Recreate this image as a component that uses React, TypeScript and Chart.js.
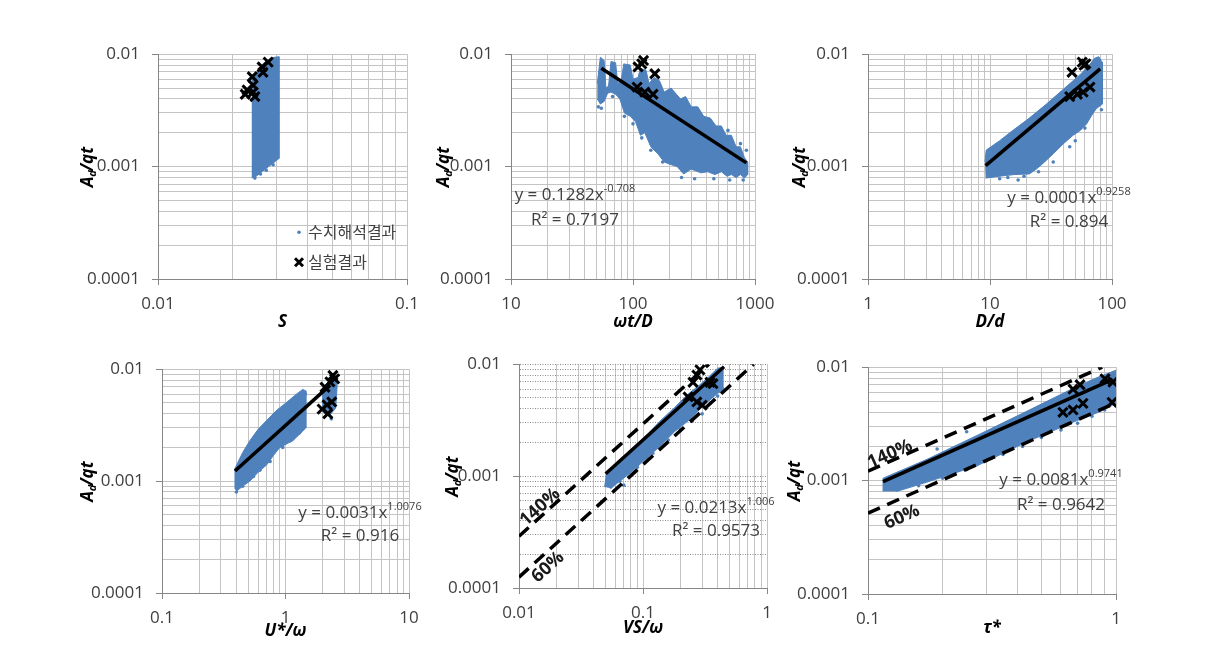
import React, { useEffect, useRef } from 'react';
import { Chart, registerables } from 'chart.js';

Chart.register(...registerables);

type Pt = [number, number];

// ---------------- shared ----------------
const yTickValues = [0.0001, 0.001, 0.01];
const yTickLabels = ['0.0001', '0.001', '0.01'];
const legendLabels = ['수치해석결과', '실험결과'];

// ---------------- panel 1 : S ----------------
const p1XTicks = [0.01, 0.1];
const p1XLabels = ['0.01', '0.1'];
const p1Cloud: Pt[] = [
  [0.0238, 0.0058], [0.025, 0.007], [0.0265, 0.0083], [0.0285, 0.0093], [0.0306, 0.0095],
  [0.0306, 0.00118], [0.0297, 0.00112], [0.0288, 0.00106], [0.0278, 0.001], [0.0268, 0.00094],
  [0.0258, 0.00088], [0.0248, 0.00082], [0.0238, 0.00079],
];
const p1Fringe: Pt[] = [[0.0245, 0.00079], [0.0258, 0.00086], [0.0272, 0.00093], [0.029, 0.00104]];
const p1Exp: Pt[] = [
  [0.0224, 0.0044], [0.0241, 0.0046], [0.0239, 0.0063], [0.0241, 0.0053], [0.0262, 0.0077],
  [0.0277, 0.0085], [0.0264, 0.0069], [0.0228, 0.0048], [0.0245, 0.0042],
];

// ---------------- panel 2 : wt/D ----------------
const p2XTicks = [10, 100, 1000];
const p2XLabels = ['10', '100', '1000'];
const p2Cloud: Pt[] = [
  [51, 0.0055], [54, 0.0094], [58, 0.0088], [60, 0.005], [63, 0.0052], [66, 0.0086], [72, 0.0084],
  [75, 0.0055], [80, 0.0058], [84, 0.0082], [95, 0.008], [100, 0.006], [110, 0.0062], [115, 0.0075],
  [128, 0.0072], [135, 0.0055], [150, 0.0062], [165, 0.0058], [180, 0.0046], [205, 0.005],
  [245, 0.004], [270, 0.0042], [300, 0.0034], [340, 0.0034], [380, 0.0028], [430, 0.0027], [480, 0.0023],
  [530, 0.0023], [580, 0.0019], [640, 0.0019], [700, 0.0015], [760, 0.0015], [820, 0.0012], [870, 0.0011],
  [870, 0.00085], [820, 0.00079], [760, 0.00085], [700, 0.0008], [640, 0.00085], [590, 0.00082],
  [530, 0.0009], [470, 0.00085], [410, 0.0009], [360, 0.00088], [300, 0.00095], [260, 0.00086],
  [230, 0.001], [200, 0.00105], [180, 0.0011], [160, 0.0013], [140, 0.0015], [125, 0.002], [115, 0.0019],
  [105, 0.0025], [95, 0.0028], [85, 0.003], [78, 0.004], [72, 0.0044], [66, 0.0046], [62, 0.0045],
  [58, 0.0038], [54, 0.0036], [51, 0.004],
];
const p2Fringe: Pt[] = [
  [52, 0.0034], [55, 0.0033], [68, 0.0042], [85, 0.0028], [100, 0.0024], [118, 0.0018],
  [140, 0.0014], [175, 0.0011], [250, 0.0008], [320, 0.00078], [460, 0.00078], [620, 0.00076],
  [800, 0.00076], [850, 0.0014], [760, 0.0016], [600, 0.0021],
];
const p2Exp: Pt[] = [
  [118, 0.0082], [110, 0.0077], [151, 0.0067], [108, 0.0051], [125, 0.0046], [146, 0.0044], [122, 0.0088],
];
const p2Trend: Pt[] = [[55, 0.0075], [850, 0.00108]];

// ---------------- panel 3 : D/d ----------------
const p3XTicks = [1, 10, 100];
const p3XLabels = ['1', '10', '100'];
const p3Cloud: Pt[] = [
  [9.1, 0.0011], [9.3, 0.0014], [12, 0.0017], [15.4, 0.0021], [21, 0.0027], [29, 0.0036], [41, 0.005],
  [55, 0.0066], [65, 0.008], [72, 0.0092], [78, 0.0095], [83, 0.0085], [84, 0.006], [83, 0.0036],
  [75, 0.0033], [70, 0.003], [62, 0.0024], [55, 0.0021], [48, 0.0019], [40, 0.0016], [33, 0.0013],
  [28, 0.0011], [24, 0.00095], [21, 0.00086], [16, 0.00085], [13, 0.00083], [10, 0.0008], [9.2, 0.00079],
];
const p3Fringe: Pt[] = [
  [12, 0.00078], [14, 0.0008], [17, 0.00076], [19, 0.00082], [25, 0.0009], [33, 0.0011], [45, 0.0015],
  [50, 0.0017], [60, 0.0022], [68, 0.003], [78, 0.004], [82, 0.0032],
];
const p3Exp: Pt[] = [
  [47, 0.0069], [57, 0.0085], [61, 0.0082], [59, 0.008], [45, 0.0042], [52, 0.0044], [66, 0.0051], [58, 0.0046],
];
const p3Trend: Pt[] = [[9.2, 0.00102], [80, 0.0074]];

// ---------------- panel 4 : U*/w ----------------
const p4XTicks = [0.1, 1, 10];
const p4XLabels = ['0.1', '1', '10'];
const p4CloudMain: Pt[] = [
  [0.39, 0.00085], [0.39, 0.0013], [0.45, 0.0018], [0.515, 0.0023], [0.6, 0.0029], [0.706, 0.0035],
  [0.85, 0.0043], [1.03, 0.0051], [1.23, 0.006], [1.38, 0.0066], [1.46, 0.0064], [1.46, 0.003],
  [1.38, 0.0028], [1.15, 0.0023], [0.9, 0.002], [0.8, 0.0017], [0.706, 0.0014], [0.6, 0.0012],
  [0.515, 0.001], [0.45, 0.0009], [0.4, 0.00081],
];
const p4CloudSmall: Pt[] = [
  [2.0, 0.0042], [2.0, 0.0062], [2.25, 0.008], [2.55, 0.0089], [2.62, 0.0072], [2.55, 0.0045], [2.25, 0.0038],
];
const p4Fringe: Pt[] = [
  [0.4, 0.0008], [0.45, 0.0009], [0.55, 0.0011], [0.62, 0.00125], [0.75, 0.0015], [0.95, 0.002],
  [1.1, 0.0023], [1.3, 0.0027], [1.4, 0.003], [1.45, 0.006], [2.35, 0.0036],
];
const p4Exp: Pt[] = [
  [2.42, 0.0088], [2.29, 0.0077], [2.09, 0.0069], [2.5, 0.0082], [1.98, 0.0044], [2.37, 0.0051],
  [2.17, 0.0048], [2.2, 0.004],
];
const p4Trend: Pt[] = [[0.39, 0.00123], [2.3, 0.0072]];

// ---------------- panel 5 : VS/w ----------------
const p5XTicks = [0.01, 0.1, 1];
const p5XLabels = ['0.01', '0.1', '1'];
const p5Cloud: Pt[] = [
  [0.049, 0.0008], [0.051, 0.00107], [0.065, 0.0014], [0.083, 0.0018], [0.11, 0.0024], [0.137, 0.0031],
  [0.18, 0.0041], [0.226, 0.0053], [0.28, 0.0064], [0.33, 0.0075], [0.4, 0.0092], [0.44, 0.0094],
  [0.44, 0.0058], [0.4, 0.0055], [0.34, 0.0047], [0.29, 0.004], [0.23, 0.0031], [0.18, 0.0025],
  [0.137, 0.00185], [0.1, 0.00135], [0.08, 0.00108], [0.065, 0.0009], [0.055, 0.00078],
];
const p5Fringe: Pt[] = [
  [0.055, 0.0008], [0.065, 0.0009], [0.07, 0.00083], [0.09, 0.0012], [0.12, 0.0016], [0.16, 0.0021],
  [0.2, 0.0026], [0.25, 0.0031], [0.3, 0.0036], [0.35, 0.0045], [0.4, 0.0052], [0.44, 0.006],
];
const p5Exp: Pt[] = [
  [0.288, 0.0089], [0.272, 0.008], [0.253, 0.0069], [0.347, 0.0069], [0.367, 0.0067], [0.231, 0.0051],
  [0.272, 0.0046], [0.3, 0.0043],
];
const p5Trend: Pt[] = [[0.05, 0.00105], [0.45, 0.0095]];
const p5Upper: Pt[] = [[0.01, 0.00029], [0.34, 0.01]];
const p5Lower: Pt[] = [[0.01, 0.000125], [0.78, 0.01]];

// ---------------- panel 6 : tau* ----------------
const p6XTicks = [0.1, 1];
const p6XLabels = ['0.1', '1'];
const p6Cloud: Pt[] = [
  [0.115, 0.0008], [0.115, 0.00105], [0.173, 0.00154], [0.275, 0.0025], [0.438, 0.0041], [0.7, 0.0068],
  [0.85, 0.0082], [1.0, 0.0094], [1.0, 0.0048], [0.85, 0.004], [0.7, 0.0034], [0.438, 0.0022],
  [0.275, 0.00135], [0.173, 0.00097], [0.13, 0.0008],
];
const p6Fringe: Pt[] = [
  [0.16, 0.0009], [0.2, 0.00105], [0.25, 0.00125], [0.3, 0.0015], [0.35, 0.0017], [0.42, 0.002],
  [0.5, 0.0024], [0.6, 0.0028], [0.7, 0.0032], [0.8, 0.0037], [0.9, 0.0042], [0.25, 0.0027], [0.19, 0.0019],
];
const p6Exp: Pt[] = [
  [0.671, 0.0064], [0.716, 0.007], [0.903, 0.0079], [0.972, 0.0074], [0.611, 0.004], [0.671, 0.0042],
  [0.736, 0.0048], [0.964, 0.0049],
];
const p6Trend: Pt[] = [[0.115, 0.00098], [0.97, 0.0078]];
const p6Upper: Pt[] = [[0.1, 0.00121], [0.88, 0.01]];
const p6Lower: Pt[] = [[0.1, 0.000517], [1.0, 0.00486]];

// ---------------- styles ----------------
const BLUE = '#4F81BD';
const GRID = '#c4c4c4';
const AXIS = '#868686';
const TEXT = '#404040';
const FONT = '"Open Sans", "Liberation Sans", sans-serif';
const KFONT = '"Noto Sans CJK KR", sans-serif';
const PAD_L = 90, PAD_T = 20, PAD_R = 32, PAD_B = 60;

interface Eq { base: string; sup: string; r2: string; cx: number; y1: number; y2: number }
interface Pct { text: string; x: number; y: number; angle: number }
interface PanelCfg {
  rect: [number, number, number, number];
  xMin: number; xMax: number; xTicks: number[]; xLabels: string[];
  xTitle: string; xTitleDy: number; yTitleDx: number;
  clouds: Pt[][]; fringe: Pt[]; exp: Pt[]; trend?: Pt[]; dashed?: Pt[][];
  eq?: Eq; pct?: Pct[]; legend?: boolean; dottedY?: boolean;
}

const panels: PanelCfg[] = [
  {
    rect: [158, 52, 407, 279], xMin: 0.01, xMax: 0.1, xTicks: p1XTicks, xLabels: p1XLabels,
    xTitle: 'S', xTitleDy: 43, yTitleDx: 70,
    clouds: [p1Cloud], fringe: p1Fringe, exp: p1Exp, legend: true,
  },
  {
    rect: [511, 52, 755, 279], xMin: 10, xMax: 1000, xTicks: p2XTicks, xLabels: p2XLabels,
    xTitle: 'ωt/D', xTitleDy: 43, yTitleDx: 67,
    clouds: [p2Cloud], fringe: p2Fringe, exp: p2Exp, trend: p2Trend,
    eq: { base: 'y = 0.1282x', sup: '-0.708', r2: 'R² = 0.7197', cx: 64, y1: 146, y2: 171 },
  },
  {
    rect: [868, 52, 1112, 279], xMin: 1, xMax: 100, xTicks: p3XTicks, xLabels: p3XLabels,
    xTitle: 'D/d', xTitleDy: 43, yTitleDx: 68,
    clouds: [p3Cloud], fringe: p3Fringe, exp: p3Exp, trend: p3Trend,
    eq: { base: 'y = 0.0001x', sup: '0.9258', r2: 'R² = 0.894', cx: 201, y1: 149, y2: 173 },
  },
  {
    rect: [162, 367, 409, 593], xMin: 0.1, xMax: 10, xTicks: p4XTicks, xLabels: p4XLabels,
    xTitle: 'U*/ω', xTitleDy: 38, yTitleDx: 74,
    clouds: [p4CloudMain, p4CloudSmall], fringe: p4Fringe, exp: p4Exp, trend: p4Trend,
    eq: { base: 'y = 0.0031x', sup: '1.0076', r2: 'R² = 0.916', cx: 198, y1: 149, y2: 172 },
  },
  {
    rect: [519, 362, 767, 588], xMin: 0.01, xMax: 1, xTicks: p5XTicks, xLabels: p5XLabels,
    xTitle: 'VS/ω', xTitleDy: 40, yTitleDx: 66, dottedY: true,
    clouds: [p5Cloud], fringe: p5Fringe, exp: p5Exp, trend: p5Trend, dashed: [p5Upper, p5Lower],
    eq: { base: 'y = 0.0213x', sup: '1.006', r2: 'R² = 0.9573', cx: 197, y1: 149, y2: 172 },
    pct: [
      { text: '140%', x: 21, y: 143, angle: 42 },
      { text: '60%', x: 29, y: 203, angle: 42 },
    ],
  },
  {
    rect: [868, 365, 1116, 594], xMin: 0.1, xMax: 1, xTicks: p6XTicks, xLabels: p6XLabels,
    xTitle: 'τ*', xTitleDy: 34, yTitleDx: 73,
    clouds: [p6Cloud], fringe: p6Fringe, exp: p6Exp, trend: p6Trend, dashed: [p6Upper, p6Lower],
    eq: { base: 'y = 0.0081x', sup: '0.9741', r2: 'R² = 0.9642', cx: 193, y1: 118, y2: 143 },
    pct: [
      { text: '140%', x: 22, y: 87, angle: 24 },
      { text: '60%', x: 34, y: 150, angle: 24 },
    ],
  },
];

// ---------------- helpers ----------------
const isMajor = (v: number) => Math.abs(Math.log10(v) - Math.round(Math.log10(v))) < 1e-6;

function gridValues(min: number, max: number): number[] {
  const out: number[] = [];
  const e0 = Math.round(Math.log10(min));
  const e1 = Math.round(Math.log10(max));
  for (let e = e0; e < e1; e++) {
    for (let m = 1; m < 10; m++) out.push(m * Math.pow(10, e));
  }
  out.push(max);
  return out;
}

function labelFor(v: number, vals: number[], labels: string[]) {
  const i = vals.findIndex((t) => Math.abs(t - v) / t < 1e-6);
  return i >= 0 ? labels[i] : '';
}

const pts = (a: Pt[]) => a.map(([x, y]) => ({ x, y }));

function axis(isX: boolean, min: number, max: number, vals: number[], labels: string[], dotted: boolean) {
  return {
    type: 'logarithmic',
    position: isX ? 'bottom' : 'left',
    min,
    max,
    afterBuildTicks: (s: any) => {
      s.ticks = gridValues(min, max).map((v) => ({ value: v }));
    },
    afterFit: (s: any) => {
      if (isX) s.height = PAD_B;
      else s.width = PAD_L;
    },
    ticks: {
      autoSkip: false,
      maxRotation: 0,
      minRotation: 0,
      padding: isX ? 9 : 12,
      color: TEXT,
      font: { family: FONT, size: 17 },
      callback: (v: any) => labelFor(Number(v), vals, labels),
    },
    grid: {
      color: dotted ? '#8a8a8a' : GRID,
      lineWidth: 1,
      tickLength: 6,
      tickColor: (c: any) => (c.tick && isMajor(c.tick.value) ? AXIS : 'rgba(0,0,0,0)'),
    },
    border: {
      display: true,
      color: AXIS,
      width: 1,
      dash: (c: any) => (dotted && c.tick ? [1, 1.5] : []),
    },
  };
}

function drawYTitle(ctx: CanvasRenderingContext2D, x: number, y: number) {
  const big = `italic bold 17px ${FONT}`;
  const small = `italic bold 11px ${FONT}`;
  ctx.save();
  ctx.translate(x, y);
  ctx.rotate(-Math.PI / 2);
  ctx.fillStyle = '#000';
  ctx.textBaseline = 'middle';
  ctx.textAlign = 'left';
  ctx.font = big;
  const wA = ctx.measureText('A').width;
  const wq = ctx.measureText('/qt').width;
  ctx.font = small;
  const wd = ctx.measureText('d').width;
  let x0 = -(wA + wd + wq) / 2;
  ctx.font = big;
  ctx.fillText('A', x0, 0);
  x0 += wA;
  ctx.font = small;
  ctx.fillText('d', x0, 5);
  x0 += wd - 1;
  ctx.font = big;
  ctx.fillText('/qt', x0, 0);
  ctx.restore();
}

function drawEq(ctx: CanvasRenderingContext2D, cx: number, y: number, base: string, sup: string) {
  const bf = `17px ${FONT}`;
  const sf = `11px ${FONT}`;
  ctx.font = bf;
  const wb = ctx.measureText(base).width;
  ctx.font = sf;
  const ws = ctx.measureText(sup).width;
  const x = cx - (wb + ws) / 2;
  ctx.textAlign = 'left';
  ctx.textBaseline = 'alphabetic';
  ctx.fillStyle = TEXT;
  ctx.font = bf;
  ctx.fillText(base, x, y);
  ctx.font = sf;
  ctx.fillText(sup, x + wb, y - 8);
}

function makeTextPlugin(cfg: PanelCfg) {
  return {
    id: 'panelTexts',
    afterDraw(chart: any) {
      const ctx: CanvasRenderingContext2D = chart.ctx;
      const a = chart.chartArea;
      ctx.save();
      // x title
      ctx.font = `italic bold 17px ${FONT}`;
      ctx.fillStyle = '#000';
      ctx.textAlign = 'center';
      ctx.textBaseline = 'middle';
      ctx.fillText(cfg.xTitle, (a.left + a.right) / 2, a.bottom + cfg.xTitleDy);
      // y title
      drawYTitle(ctx, a.left - cfg.yTitleDx, (a.top + a.bottom) / 2);
      // equation
      if (cfg.eq) {
        const e = cfg.eq;
        drawEq(ctx, a.left + e.cx, a.top + e.y1, e.base, e.sup);
        ctx.font = `17px ${FONT}`;
        ctx.textAlign = 'center';
        ctx.fillStyle = TEXT;
        ctx.fillText(e.r2, a.left + e.cx, a.top + e.y2);
      }
      // percentage labels
      if (cfg.pct) {
        for (const p of cfg.pct) {
          ctx.save();
          ctx.translate(a.left + p.x, a.top + p.y);
          ctx.rotate((-p.angle * Math.PI) / 180);
          ctx.font = `bold 18px ${FONT}`;
          ctx.fillStyle = '#1a1a1a';
          ctx.textAlign = 'center';
          ctx.textBaseline = 'middle';
          ctx.fillText(p.text, 0, 0);
          ctx.restore();
        }
      }
      // legend
      if (cfg.legend) {
        const lx = a.left + 141;
        const y1 = a.top + 178;
        const y2 = a.top + 208;
        ctx.fillStyle = BLUE;
        ctx.beginPath();
        ctx.arc(lx, y1, 1.8, 0, Math.PI * 2);
        ctx.fill();
        ctx.strokeStyle = '#000';
        ctx.lineWidth = 3;
        ctx.beginPath();
        ctx.moveTo(lx - 4, y2 - 4);
        ctx.lineTo(lx + 4, y2 + 4);
        ctx.moveTo(lx + 4, y2 - 4);
        ctx.lineTo(lx - 4, y2 + 4);
        ctx.stroke();
        ctx.font = `16px ${KFONT}`;
        ctx.fillStyle = TEXT;
        ctx.textAlign = 'left';
        ctx.textBaseline = 'middle';
        ctx.fillText(legendLabels[0], lx + 9, y1);
        ctx.fillText(legendLabels[1], lx + 9, y2);
      }
      ctx.restore();
    },
  };
}

function buildConfig(cfg: PanelCfg): any {
  const datasets: any[] = [];
  datasets.push({
    label: legendLabels[1],
    data: pts(cfg.exp),
    showLine: false,
    pointStyle: 'crossRot',
    pointRadius: 6.5,
    pointBorderWidth: 3,
    borderWidth: 3,
    borderColor: '#000',
    pointBorderColor: '#000',
    backgroundColor: '#000',
    order: 0,
  });
  if (cfg.trend) {
    datasets.push({
      label: 'trend',
      data: pts(cfg.trend),
      borderColor: '#000',
      borderWidth: 3.5,
      pointRadius: 0,
      fill: false,
      order: 1,
    });
  }
  (cfg.dashed || []).forEach((d, i) => {
    datasets.push({
      label: 'band' + i,
      data: pts(d),
      borderColor: '#000',
      borderWidth: 3.5,
      borderDash: [13, 8],
      pointRadius: 0,
      fill: false,
      order: 2,
    });
  });
  datasets.push({
    label: legendLabels[0],
    data: pts(cfg.fringe),
    showLine: false,
    pointRadius: 1.8,
    pointBorderWidth: 0,
    borderColor: BLUE,
    backgroundColor: BLUE,
    order: 3,
  });
  cfg.clouds.forEach((c, i) => {
    datasets.push({
      label: 'cloud' + i,
      data: pts(c),
      fill: 'shape',
      backgroundColor: BLUE,
      borderColor: BLUE,
      borderWidth: 1,
      pointRadius: 0,
      tension: 0,
      order: 4,
    });
  });

  return {
    type: 'line',
    data: { datasets },
    options: {
      responsive: false,
      animation: false,
      events: [],
      layout: { padding: { left: 0, top: PAD_T, right: PAD_R, bottom: 0 } },
      plugins: { legend: { display: false }, tooltip: { enabled: false } },
      scales: {
        x: axis(true, cfg.xMin, cfg.xMax, cfg.xTicks, cfg.xLabels, false),
        y: axis(false, 0.0001, 0.01, yTickValues, yTickLabels, !!cfg.dottedY),
      },
    },
    plugins: [makeTextPlugin(cfg)],
  };
}

function Panel({ cfg }: { cfg: PanelCfg }) {
  const ref = useRef<HTMLCanvasElement>(null);
  useEffect(() => {
    const chart = new Chart(ref.current as HTMLCanvasElement, buildConfig(cfg));
    return () => chart.destroy();
  }, [cfg]);
  const [l, t, r, b] = cfg.rect;
  const W = r - l + PAD_L + PAD_R;
  const H = b - t + PAD_T + PAD_B;
  return (
    <canvas
      ref={ref}
      width={W}
      height={H}
      style={{ position: 'absolute', left: l - PAD_L, top: t - PAD_T, width: W, height: H }}
    />
  );
}

export default function App() {
  return (
    <div style={{ position: 'fixed', left: 0, top: 0, width: 1220, height: 651, background: '#fff', overflow: 'hidden' }}>
      {panels.map((p, i) => (
        <Panel key={i} cfg={p} />
      ))}
    </div>
  );
}
